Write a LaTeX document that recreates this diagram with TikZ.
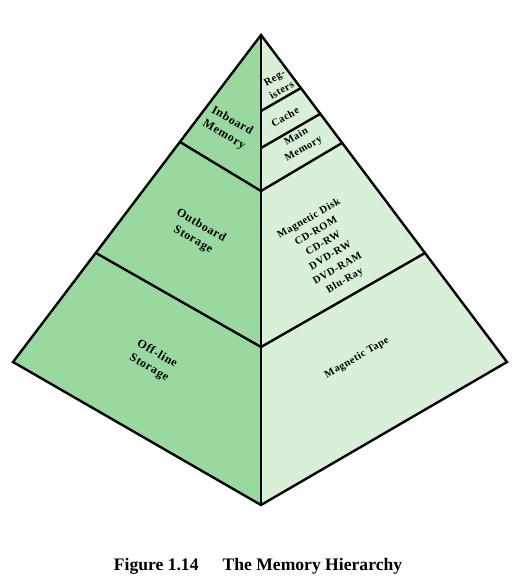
\documentclass[tikz,border=0pt]{standalone}
\usepackage{fontspec}
\setmainfont{Liberation Serif}
\definecolor{leftface}{RGB}{153,217,160}
\definecolor{rightface}{RGB}{217,240,216}
\begin{document}
\begin{tikzpicture}[x=1pt, y=-1pt,
    edge/.style={line width=2.4pt, line join=miter},
    leftlabel/.style={rotate=-30, align=center, font=\bfseries\fontsize{12}{16}\selectfont\addfontfeature{LetterSpace=5}},
    rightlabel/.style={rotate=30, align=center, font=\bfseries\fontsize{10.5}{14.3}\selectfont\addfontfeature{LetterSpace=5}},
    caption/.style={font=\bfseries\fontsize{17.6}{20}\selectfont}
]
\useasboundingbox (0,0) rectangle (519,584);

% Corners of the pyramid
\coordinate (apex) at (261,35);
\coordinate (left) at (13,362);
\coordinate (right) at (507,362);
\coordinate (bottom) at (261,505);

% Level boundaries, left face
\coordinate (inL) at (180,142);
\coordinate (inC) at (261,191);
\coordinate (outL) at (96,253);
\coordinate (outC) at (261,347);

% Level boundaries, right face
\coordinate (regC) at (261,111);
\coordinate (regR) at (301,88);
\coordinate (cacheC) at (261,148);
\coordinate (cacheR) at (320,114);
\coordinate (mainC) at (261,191);
\coordinate (mainR) at (342,143);
\coordinate (diskC) at (261,347);
\coordinate (diskR) at (425,253);

% Faces
\fill[leftface] (apex) -- (left) -- (bottom) -- cycle;
\fill[rightface] (apex) -- (right) -- (bottom) -- cycle;

% Outline and dividing lines
\draw[edge] (apex) -- (left) -- (bottom) -- (right) -- cycle;
\draw[edge] (apex) -- (bottom);
\draw[edge] (inL) -- (inC);
\draw[edge] (outL) -- (outC);
\draw[edge] (regC) -- (regR);
\draw[edge] (cacheC) -- (cacheR);
\draw[edge] (mainC) -- (mainR);
\draw[edge] (diskC) -- (diskR);

% Left face labels
\node[leftlabel] (inboard) at (228,128) {Inboard\\Memory};
\node[leftlabel] (outboard) at (197,233) {Outboard\\Storage};
\node[leftlabel] (offline) at (153,361) {Off-line\\Storage};

% Right face labels
\node[rightlabel] (registers) at (278,84) {Reg-\\isters};
\node[rightlabel] (cache) at (285,117) {Cache};
\node[rightlabel] (mainmem) at (300,143) {Main\\Memory};
\node[rightlabel] (disks) at (327,250) {Magnetic Disk\\CD-ROM\\CD-RW\\DVD-RW\\DVD-RAM\\Blu-Ray};
\node[rightlabel] (tape) at (357,358) {Magnetic Tape};

% Caption
\node[caption] (title) at (258,566) {Figure 1.14\hspace{24pt}The Memory Hierarchy};
\end{tikzpicture}
\end{document}
